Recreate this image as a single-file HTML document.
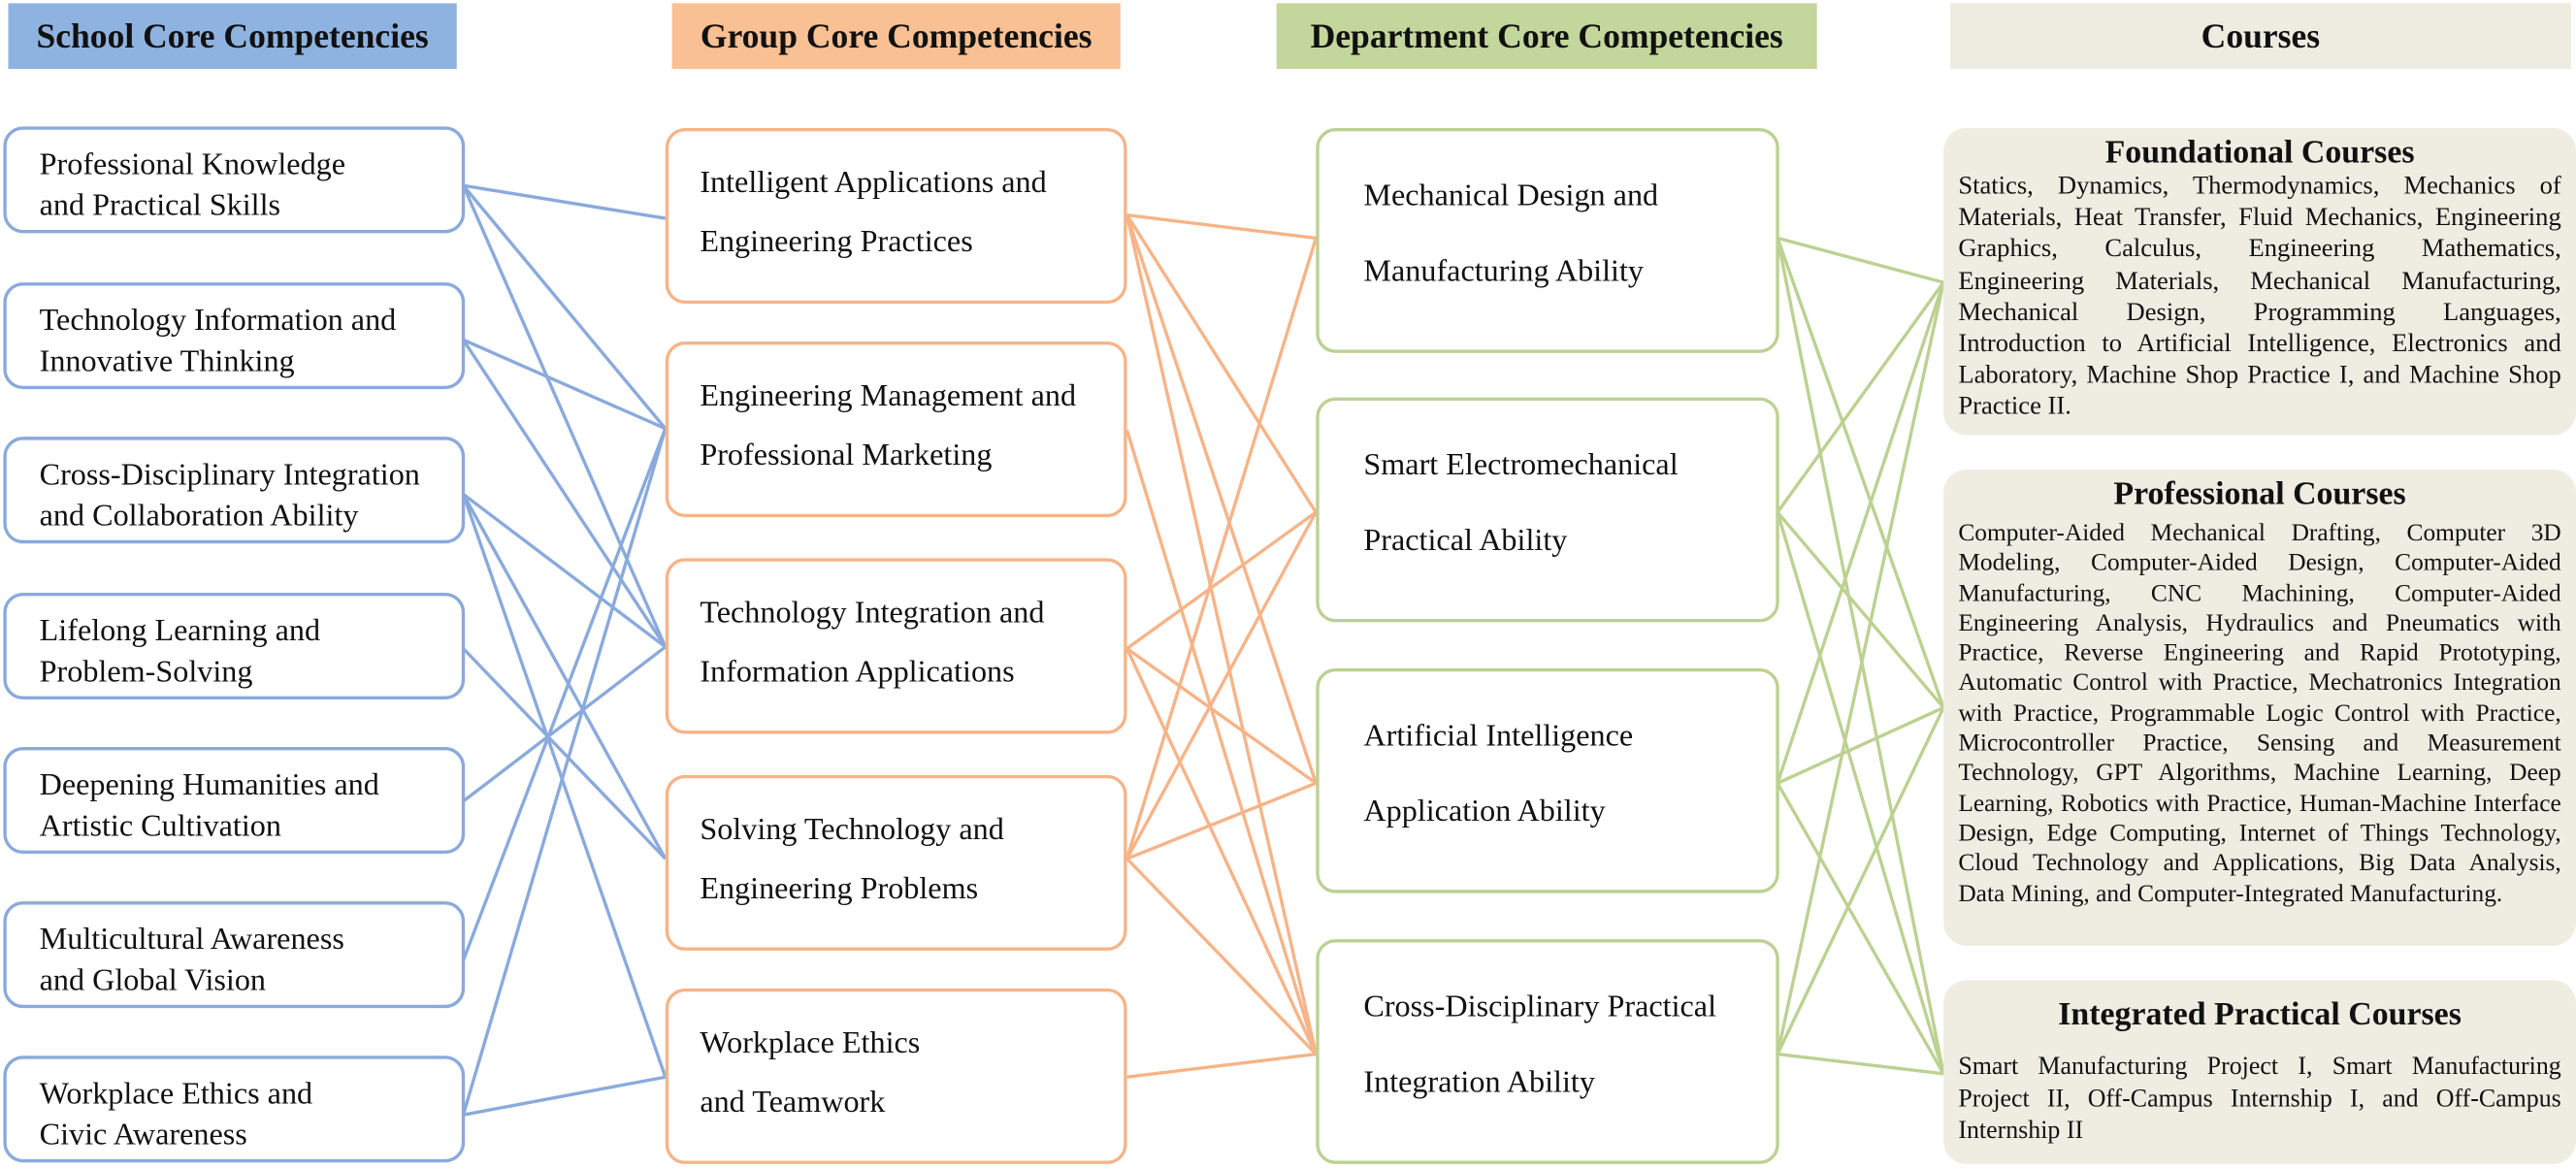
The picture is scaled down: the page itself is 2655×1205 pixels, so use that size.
<!DOCTYPE html>
<html><head><meta charset="utf-8"><style>
html,body{margin:0;padding:0;background:#fff;width:2655px;height:1205px;overflow:hidden}
#c{position:absolute;left:0;top:0;width:1568px;height:712px;transform-origin:0 0;transform:scale(1.69324,1.69242);font-family:"Liberation Serif",serif;color:#111}
.h{position:absolute;top:2px;height:40px;line-height:40px;text-align:center;font-weight:bold;font-size:21px}
.b{position:absolute;box-sizing:border-box;border-radius:12px;background:#fff;font-size:19px}
.s{left:2px;width:281px;height:65px;border:2.2px solid #8aaadc;padding:9px 0 0 20px;line-height:25px}
.g{left:405px;width:281px;height:107px;border:2.2px solid #f6b488;padding:14px 0 0 19px;line-height:36px}
.d{left:801px;width:282px;height:137px;border:2.2px solid #bcd192;padding:17px 0 0 27px;line-height:46px}
.cb{position:absolute;left:1183px;width:385px;background:#efede2;border-radius:14px;box-sizing:border-box;padding:4px 9px 0 9px}
.ct{text-align:center;font-weight:bold;font-size:20px;line-height:22px}
.cx{text-align:justify;text-align-last:left;font-size:15.3px}
svg{position:absolute;left:0;top:0}
</style></head><body><div id="c">
<div class="h" style="left:5px;width:273px;background:#8fb3e0">School Core Competencies</div>
<div class="h" style="left:409px;width:273px;background:#f9c093">Group Core Competencies</div>
<div class="h" style="left:777px;width:329px;background:#c3d69b">Department Core Competencies</div>
<div class="h" style="left:1187px;width:378px;background:#eeece1">Courses</div>
<svg width="1568" height="712" viewBox="0 0 1568 712" fill="none" stroke-width="2">
<g stroke="#8aaadc">
<line x1="282" y1="113" x2="405" y2="133"/><line x1="282" y1="113" x2="405" y2="261"/><line x1="282" y1="113" x2="405" y2="394"/>
<line x1="282" y1="207" x2="405" y2="261"/><line x1="282" y1="207" x2="405" y2="394"/>
<line x1="282" y1="301" x2="405" y2="394"/><line x1="282" y1="301" x2="405" y2="523"/><line x1="282" y1="301" x2="405" y2="656"/>
<line x1="282" y1="395" x2="405" y2="523"/>
<line x1="282" y1="488" x2="405" y2="394"/>
<line x1="282" y1="585" x2="405" y2="261"/>
<line x1="282" y1="679" x2="405" y2="261"/><line x1="282" y1="679" x2="405" y2="656"/>
</g>
<g stroke="#f6b488">
<line x1="686" y1="131" x2="801" y2="145"/><line x1="686" y1="131" x2="801" y2="312"/><line x1="686" y1="131" x2="801" y2="477"/><line x1="686" y1="131" x2="801" y2="642"/>
<line x1="686" y1="262" x2="801" y2="642"/>
<line x1="686" y1="395" x2="801" y2="312"/><line x1="686" y1="395" x2="801" y2="477"/><line x1="686" y1="395" x2="801" y2="642"/>
<line x1="686" y1="523" x2="801" y2="145"/><line x1="686" y1="523" x2="801" y2="312"/><line x1="686" y1="523" x2="801" y2="477"/><line x1="686" y1="523" x2="801" y2="642"/>
<line x1="686" y1="656" x2="801" y2="642"/>
</g>
<g stroke="#bcd192">
<line x1="1082" y1="145" x2="1183" y2="172"/><line x1="1082" y1="145" x2="1183" y2="431"/><line x1="1082" y1="145" x2="1183" y2="654"/>
<line x1="1082" y1="312" x2="1183" y2="172"/><line x1="1082" y1="312" x2="1183" y2="431"/><line x1="1082" y1="312" x2="1183" y2="654"/>
<line x1="1082" y1="477" x2="1183" y2="172"/><line x1="1082" y1="477" x2="1183" y2="431"/><line x1="1082" y1="477" x2="1183" y2="654"/>
<line x1="1082" y1="642" x2="1183" y2="172"/><line x1="1082" y1="642" x2="1183" y2="431"/><line x1="1082" y1="642" x2="1183" y2="654"/>
</g>
</svg>
<div class="b s" style="top:77px">Professional Knowledge<br>and Practical Skills</div>
<div class="b s" style="top:172px">Technology Information and<br>Innovative Thinking</div>
<div class="b s" style="top:266px">Cross-Disciplinary Integration<br>and Collaboration Ability</div>
<div class="b s" style="top:361px">Lifelong Learning and<br>Problem-Solving</div>
<div class="b s" style="top:455px">Deepening Humanities and<br>Artistic Cultivation</div>
<div class="b s" style="top:549px">Multicultural Awareness<br>and Global Vision</div>
<div class="b s" style="top:643px">Workplace Ethics and<br>Civic Awareness</div>
<div class="b g" style="top:78px">Intelligent Applications and<br>Engineering Practices</div>
<div class="b g" style="top:208px">Engineering Management and<br>Professional Marketing</div>
<div class="b g" style="top:340px">Technology Integration and<br>Information Applications</div>
<div class="b g" style="top:472px">Solving Technology and<br>Engineering Problems</div>
<div class="b g" style="top:602px">Workplace Ethics<br>and Teamwork</div>
<div class="b d" style="top:78px">Mechanical Design and<br>Manufacturing Ability</div>
<div class="b d" style="top:242px">Smart Electromechanical<br>Practical Ability</div>
<div class="b d" style="top:407px">Artificial Intelligence<br>Application Ability</div>
<div class="b d" style="top:572px">Cross-Disciplinary Practical<br>Integration Ability</div>
<div class="cb" style="top:78px;height:187px"><div class="ct">Foundational Courses</div><div class="cx" style="line-height:19.2px;font-size:15.7px">Statics, Dynamics, Thermodynamics, Mechanics of Materials, Heat Transfer, Fluid Mechanics, Engineering Graphics, Calculus, Engineering Mathematics, Engineering Materials, Mechanical Manufacturing, Mechanical Design, Programming Languages, Introduction to Artificial Intelligence, Electronics and Laboratory, Machine Shop Practice I, and Machine Shop Practice II.</div></div>
<div class="cb" style="top:286px;height:290px;padding-top:4px"><div class="ct" style="margin-bottom:4px">Professional Courses</div><div class="cx" style="line-height:18.3px;font-size:15px">Computer-Aided Mechanical Drafting, Computer 3D Modeling, Computer-Aided Design, Computer-Aided Manufacturing, CNC Machining, Computer-Aided Engineering Analysis, Hydraulics and Pneumatics with Practice, Reverse Engineering and Rapid Prototyping, Automatic Control with Practice, Mechatronics Integration with Practice, Programmable Logic Control with Practice, Microcontroller Practice, Sensing and Measurement Technology, GPT Algorithms, Machine Learning, Deep Learning, Robotics with Practice, Human-Machine Interface Design, Edge Computing, Internet of Things Technology, Cloud Technology and Applications, Big Data Analysis, Data Mining, and Computer-Integrated Manufacturing.</div></div>
<div class="cb" style="top:597px;height:112px;padding-top:10px"><div class="ct" style="margin-bottom:11px">Integrated Practical Courses</div><div class="cx" style="line-height:19.5px">Smart Manufacturing Project I, Smart Manufacturing Project II, Off-Campus Internship I, and Off-Campus Internship II</div></div>
</div></body></html>
